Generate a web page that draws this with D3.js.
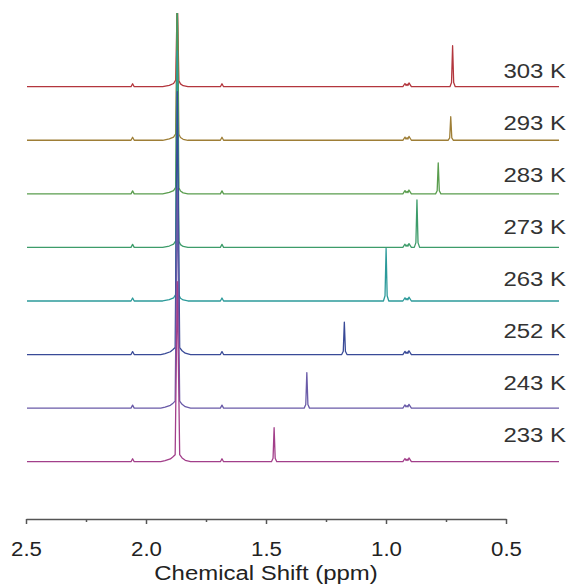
<!DOCTYPE html>
<html>
<head>
<meta charset="utf-8">
<script src="https://cdn.jsdelivr.net/npm/d3@7/dist/d3.min.js"></script>
<style>
  html, body { margin: 0; padding: 0; background: #fff; }
  svg { display: block; font-family: "Liberation Sans", Arial, sans-serif; }
</style>
</head>
<body>
<svg id="chart" width="576" height="586"></svg>
<script>
// Variable-temperature 1H NMR traces, stacked from warm (top) to cold (bottom)
const temperatures = ["303 K", "293 K", "283 K", "273 K", "263 K", "252 K", "243 K", "233 K"];
const traceColors = ["#b3363d", "#9e7e36", "#5a9d4e", "#3d9c6a", "#2c9a9a", "#394a97", "#6a5ba8", "#a23f8a"];

// Temperature-dependent resonance: shift (ppm) and intensity (a.u.)
const movingShift = [0.900, 0.907, 0.954, 1.034, 1.150, 1.307, 1.448, 1.571];
const movingHeight = [4.1, 2.35, 3.1, 4.75, 5.25, 3.25, 3.55, 3.4];

// Solvent resonance (same shift in every trace), intensity runs off the top
const solventShift = 1.935;
const solventHeight = [9, 14, 19, 24, 25, 26.3, 22, 18];
const solventFoot = ["narrow", "narrow", "narrow", "narrow", "narrow", "broad", "broad", "broad"];

// Line-shape profiles: [offset from centre (ppm), intensity (a.u.)]; null = peak maximum
const footProfiles = {
  narrow: [[-0.040, 0], [-0.022, 0.1], [-0.012, 0.28], [-0.006, 0.6], [0, null],
           [0.006, 0.65], [0.014, 0.32], [0.030, 0.14], [0.055, 0]],
  broad:  [[-0.050, 0], [-0.030, 0.14], [-0.018, 0.38], [-0.009, 0.7], [0, null],
           [0.008, 0.7], [0.016, 0.5], [0.026, 0.28], [0.046, 0.1], [0.062, 0]]
};
const narrowPeak = [[-0.010, 0], [-0.004, 0.1], [0, 1], [0.004, 0.1], [0.010, 0]];
const smallPeak = [[-0.006, 0], [0, 1], [0.006, 0]];

// Small resonances common to every trace: [ppm, intensity]
const minorPeaks = [[2.103, 0.3], [1.767, 0.3]];
const multiplet = [[1.087, 0], [1.079, 0.32], [1.075, 0.12], [1.071, 0.25], [1.068, 0.12], [1.064, 0.38], [1.055, 0]];

const axisTicks = [2.5, 2.0, 1.5, 1.0, 0.5];
const axisMinorTicks = [2.25, 1.75, 1.25, 0.75];
const spectrumRange = [2.5, 0.5];

const svg = d3.select("#chart");
const stretch = 1.14;

// Scales
const xSpec = d3.scaleLinear().domain(spectrumRange).range([27, 559]);
const xAxisScale = d3.scaleLinear().domain([2.5, 0.5]).range([26, 506]);
const yIntensity = d3.scaleLinear().domain([0, 10]).range([0, -100]);
const baseline = d3.scalePoint().domain(temperatures).range([86.7, 461.7]);
const labelY = d3.scalePoint().domain(temperatures).range([78.3, 441.7]);

// Assemble one trace's point list from its peaks
function tracePoints(i) {
  const segments = [];
  segments.push(footProfiles[solventFoot[i]].map(([d, v]) => [solventShift + d, v === null ? solventHeight[i] : v]));
  minorPeaks.forEach(([p, h]) => segments.push(smallPeak.map(([d, f]) => [p + d, f * h])));
  segments.push(multiplet.map(d => d.slice()));
  segments.push(narrowPeak.map(([d, f]) => [movingShift[i] + d, f * movingHeight[i]]));
  const pts = segments.flat().sort((a, b) => b[0] - a[0]);
  return [[spectrumRange[0], 0], ...pts, [spectrumRange[1], 0]];
}

svg.append("defs").append("clipPath").attr("id", "plotClip")
  .append("rect").attr("x", 0).attr("y", 13).attr("width", 576).attr("height", 500);

const line = d3.line().x(d => xSpec(d[0])).y(d => yIntensity(d[1]));

const traces = svg.append("g").attr("clip-path", "url(#plotClip)");
temperatures.forEach((t, i) => {
  traces.append("g")
    .attr("transform", `translate(0,${baseline(t)})`)
    .append("path")
    .attr("d", line(tracePoints(i)))
    .attr("fill", "none")
    .attr("stroke", traceColors[i])
    .attr("stroke-width", 1.3)
    .attr("stroke-linejoin", "round");
});

// Temperature labels
svg.append("g").selectAll("text").data(temperatures).join("text")
  .attr("transform", d => `translate(566,${labelY(d)}) scale(${stretch},1)`)
  .attr("text-anchor", "end")
  .attr("font-size", 21)
  .attr("fill", "#333")
  .text(d => d);

// Chemical shift axis
const axisG = svg.append("g").attr("transform", "translate(0,519)");
axisG.call(d3.axisBottom(xAxisScale).tickValues(axisTicks).tickFormat(d3.format(".1f"))
  .tickSize(5).tickSizeOuter(0));
axisG.append("g").call(d3.axisBottom(xAxisScale).tickValues(axisMinorTicks).tickFormat("")
  .tickSize(3).tickSizeOuter(0))
  .select(".domain").remove();
axisG.selectAll(".domain").attr("stroke", "#555").attr("stroke-width", 1.5);
axisG.selectAll(".tick line").attr("stroke", "#555").attr("stroke-width", 1.5);
axisG.selectAll(".tick text")
  .attr("y", 37.5).attr("dy", 0)
  .attr("transform", `scale(${stretch},1)`)
  .attr("font-size", 19.5)
  .attr("font-family", "Liberation Sans, Arial, sans-serif")
  .attr("fill", "#222");

svg.append("text")
  .attr("transform", `translate(${xAxisScale(1.5)},580) scale(${stretch},1)`)
  .attr("text-anchor", "middle")
  .attr("font-size", 21)
  .attr("fill", "#222")
  .text("Chemical Shift (ppm)");
</script>
</body>
</html>
